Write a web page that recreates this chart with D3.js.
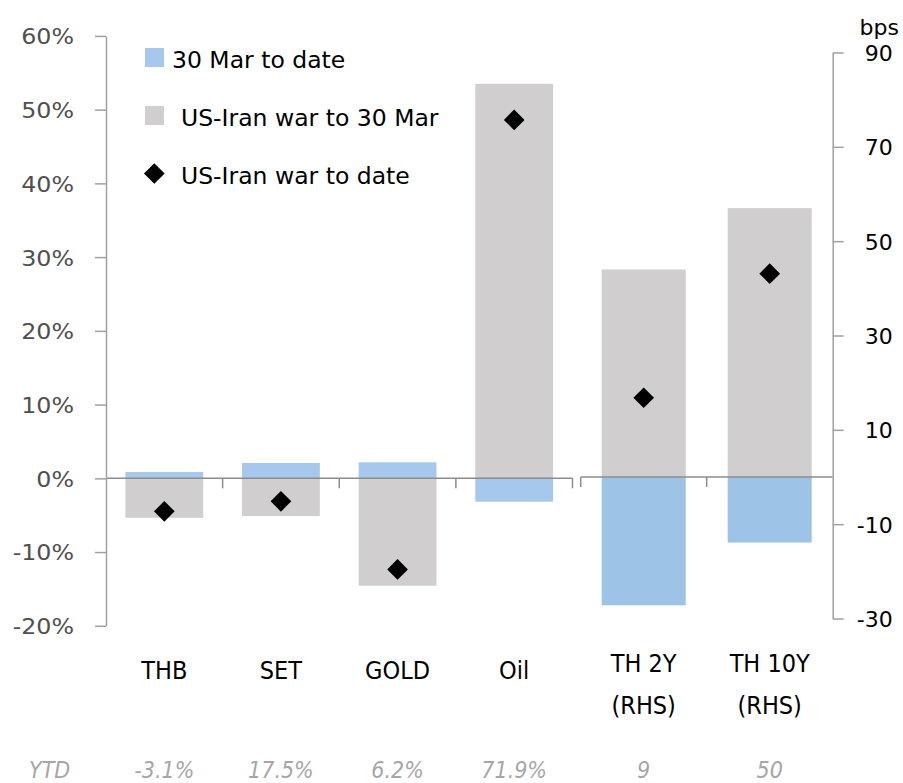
<!DOCTYPE html>
<html>
<head>
<meta charset="utf-8">
<script src="https://cdn.jsdelivr.net/npm/d3@7"></script>
<style>
  body { margin: 0; background: #fff; }
  svg { display: block; }
</style>
</head>
<body>
<svg id="chart"></svg>
<script>
// data
const leftCats = ["THB", "SET", "GOLD", "Oil"];
const rightCats = ["TH 2Y", "TH 10Y"];
const rightSub = "(RHS)";
// percent, left axis
const sinceMar30 = [0.86, 2.08, 2.17, -3.17];
const warToMar30 = [-5.35, -5.12, -14.57, 53.5];
const warToDate = [-4.48, -3.12, -12.35, 48.6];
// bps, right axis
const bondSinceMar30 = [-27.2, -13.9];
const bondWarToMar30 = [44.0, 57.0];
const bondWarToDate = [16.8, 43.1];
const ytdLabels = ["-3.1%", "17.5%", "6.2%", "71.9%", "9", "50"];
const leftTicks = [-20, -10, 0, 10, 20, 30, 40, 50, 60];
const rightTicks = [-30, -10, 10, 30, 50, 70, 90];
const legendNames = ["30 Mar to date", "US-Iran war to 30 Mar", "US-Iran war to date"];

const W = 903, H = 783;
const blueL = "#A5C8EC", blueR = "#9DC3E6", grey = "#D0CECE", axisCol = "#A0A0A0";
const font = "'DejaVu Sans', Verdana, sans-serif";
const condensed = "'DejaVu Sans Condensed', 'DejaVu Sans', sans-serif";

const svg = d3.select("#chart").attr("width", W).attr("height", H);

const xL = d3.scaleBand().domain(leftCats).range([106, 572.5]).padding(0);
const xR = d3.scaleBand().domain(rightCats).range([580.7, 832.7]).padding(0);
const yL = d3.scaleLinear().domain([-20, 60]).range([625.8, 35.9]);
const yR = d3.scaleLinear().domain([-30, 90]).range([618.5, 52.5]);
const barFrac = 0.667;

function bar(x, y, cat, v, color) {
  const bw = x.bandwidth() * barFrac;
  svg.append("rect")
    .attr("x", x(cat) + (x.bandwidth() - bw) / 2)
    .attr("width", bw)
    .attr("y", Math.min(y(0), y(v)))
    .attr("height", Math.abs(y(v) - y(0)))
    .attr("fill", color);
}

const diamond = d3.symbol().type(d3.symbolSquare).size(214);

// bars
leftCats.forEach((c, i) => {
  bar(xL, yL, c, warToMar30[i], grey);
  bar(xL, yL, c, sinceMar30[i], blueL);
});
rightCats.forEach((c, i) => {
  bar(xR, yR, c, bondWarToMar30[i], grey);
  bar(xR, yR, c, bondSinceMar30[i], blueR);
});

// zero lines with category ticks
function zeroLine(x, y0, ticks) {
  const g = svg.append("g").attr("stroke", "#8C8C8C").attr("stroke-width", 1.5);
  const r = x.range();
  g.append("line").attr("x1", r[0]).attr("x2", r[1]).attr("y1", y0).attr("y2", y0);
  ticks.forEach(t => {
    g.append("line").attr("x1", t).attr("x2", t).attr("y1", y0).attr("y2", y0 + 10);
  });
}
zeroLine(xL, yL(0), leftCats.slice(1).map(c => xL(c)).concat([xL.range()[1]]));
zeroLine(xR, yR(0), [xR.range()[0]].concat(rightCats.slice(1).map(c => xR(c))));

// diamonds
leftCats.forEach((c, i) => {
  svg.append("path").attr("d", diamond)
    .attr("transform", `translate(${xL(c) + xL.bandwidth() / 2},${yL(warToDate[i])}) rotate(45)`)
    .attr("fill", "#000");
});
rightCats.forEach((c, i) => {
  svg.append("path").attr("d", diamond)
    .attr("transform", `translate(${xR(c) + xR.bandwidth() / 2},${yR(bondWarToDate[i])}) rotate(45)`)
    .attr("fill", "#000");
});

// left axis
const gL = svg.append("g").attr("transform", "translate(106,0)")
  .call(d3.axisLeft(yL).tickValues(leftTicks).tickSize(11).tickSizeOuter(0).tickFormat(d => d + "%"));
gL.select(".domain").attr("stroke", axisCol).attr("stroke-width", 1.5);
gL.selectAll(".tick line").attr("stroke", axisCol).attr("stroke-width", 1.5);
gL.selectAll(".tick text")
  .attr("x", 0).attr("dy", "0.36em")
  .attr("transform", "translate(-32,0) scale(1.08,1)")
  .attr("text-anchor", "end")
  .style("font-family", font).style("font-size", "22px").attr("fill", "#4F4F4F");

// right axis
const gR = svg.append("g").attr("transform", `translate(${xR.range()[1]},0)`)
  .call(d3.axisRight(yR).tickValues(rightTicks).tickSize(11).tickSizeOuter(0).tickFormat(d => String(d)));
gR.select(".domain").attr("stroke", axisCol).attr("stroke-width", 1.5);
gR.selectAll(".tick line").attr("stroke", axisCol).attr("stroke-width", 1.5);
gR.selectAll(".tick text")
  .attr("x", 60).attr("dy", "0.36em")
  .attr("text-anchor", "end")
  .style("font-family", font).style("font-size", "22px").attr("fill", "#000");
svg.append("text").attr("x", 899).attr("y", 35).attr("text-anchor", "end")
  .style("font-family", font).style("font-size", "22px").attr("fill", "#000").text("bps");

// category labels
leftCats.forEach(c => {
  svg.append("text").attr("x", xL(c) + xL.bandwidth() / 2).attr("y", 679)
    .attr("text-anchor", "middle").style("font-family", condensed).style("font-size", "25px")
    .attr("fill", "#000").text(c);
});
rightCats.forEach(c => {
  const cx = xR(c) + xR.bandwidth() / 2;
  svg.append("text").attr("x", cx).attr("y", 672)
    .attr("text-anchor", "middle").style("font-family", condensed).style("font-size", "25px")
    .attr("fill", "#000").text(c);
  svg.append("text").attr("x", cx).attr("y", 714)
    .attr("text-anchor", "middle").style("font-family", condensed).style("font-size", "25px")
    .attr("fill", "#000").text(rightSub);
});

// YTD row
const centers = leftCats.map(c => xL(c) + xL.bandwidth() / 2)
  .concat(rightCats.map(c => xR(c) + xR.bandwidth() / 2));
function ytdText(x, anchor, t) {
  svg.append("text").attr("x", x).attr("y", 778).attr("text-anchor", anchor)
    .style("font-family", condensed).style("font-size", "23px").style("font-style", "italic")
    .style("font-weight", "200").attr("fill", "#A6A6A6").text(t);
}
ytdText(29, "start", "YTD");
ytdLabels.forEach((t, i) => ytdText(centers[i], "middle", t));

// legend
const leg = svg.append("g").style("font-family", font).style("font-size", "23.5px").attr("fill", "#000");
leg.append("rect").attr("x", 145).attr("y", 48).attr("width", 19).attr("height", 19).attr("fill", blueL);
leg.append("text").attr("x", 172).attr("y", 68).text(legendNames[0]);
leg.append("rect").attr("x", 145).attr("y", 106).attr("width", 19).attr("height", 19).attr("fill", grey);
leg.append("text").attr("x", 181).attr("y", 126).text(legendNames[1]);
leg.append("path").attr("d", diamond).attr("transform", "translate(154.3,173.5) rotate(45)").attr("fill", "#000");
leg.append("text").attr("x", 181).attr("y", 184).text(legendNames[2]);
</script>
</body>
</html>
